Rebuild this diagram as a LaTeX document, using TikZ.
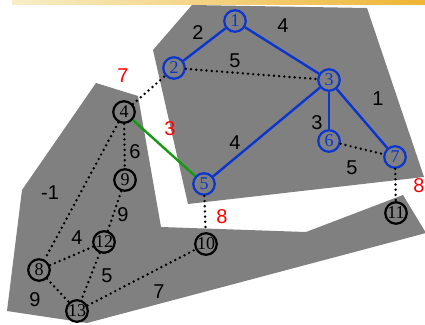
\documentclass[tikz,border=0pt]{standalone}
\usepackage{fontspec}
\setmainfont{Liberation Serif}
\newfontfamily\wtfont{Liberation Sans}
\usepackage{tikz}
\definecolor{treeblue}{HTML}{0A35CF}
\definecolor{swapgreen}{HTML}{129A12}
\definecolor{regiongray}{HTML}{808080}
\definecolor{barlight}{HTML}{F8EDC8}
\definecolor{bardark}{HTML}{EEB534}
\tikzset{
  vtx/.style={
    circle,
    draw=black,
    line width=2.2pt,
    minimum size=21.5pt,
    inner sep=0pt,
    font=\fontsize{18}{18}\selectfont
  },
  treevtx/.style={
    vtx,
    draw=treeblue,
    text=treeblue
  },
  treeedge/.style={
    draw=treeblue,
    line width=2.4pt
  },
  swapedge/.style={
    draw=swapgreen,
    line width=2.4pt
  },
  nontree/.style={
    draw=black,
    line width=2.7pt,
    line cap=round,
    dash pattern=on 0pt off 5.2pt
  },
  wt/.style={
    inner sep=0pt,
    font=\wtfont\fontsize{20}{20}\selectfont
  },
  cutwt/.style={
    wt,
    text=red
  },
  region/.style={
    fill=regiongray,
    draw=none
  }
}

\begin{document}
\begin{tikzpicture}[x=1pt, y=-1pt]
\useasboundingbox (0,0) rectangle (425,324);
% strip along the top
\fill[left color=barlight, right color=bardark] (12,0) rectangle (425,4);

% the two components
\fill[region] (153,50) -- (192,5) -- (367,8) -- (424,177) -- (188,204) -- cycle;
\fill[region] (96,83) -- (138,96) -- (161,227) -- (306,232) -- (403,195)
  -- (426,233) -- (87,323) -- (7,311) -- (22,190) -- cycle;

% upper tree
\node[treevtx] (n1) at (235,21) {1};
\node[treevtx] (n2) at (174,68) {2};
\node[treevtx] (n3) at (329,80) {3};
\node[treevtx] (n5) at (204,184) {5};
\node[treevtx] (n6) at (329,141) {6};
\node[treevtx] (n7) at (395,157) {7};

% lower part
\node[vtx] (n4) at (124,112) {4};
\node[vtx] (n9) at (125,180) {9};
\node[vtx] (n12) at (104,242) {12};
\node[vtx] (n8) at (39,270) {8};
\node[vtx] (n13) at (77,311) {13};
\node[vtx] (n10) at (206,244) {10};
\node[vtx] (n11) at (396,213) {11};

\draw[treeedge] (n1) -- (n2);
\draw[treeedge] (n1) -- (n3);
\draw[treeedge] (n3) -- (n5);
\draw[treeedge] (n3) -- (n6);
\draw[treeedge] (n3) -- (n7);
\draw[swapedge] (n4) -- (n5);

\draw[nontree] (n2) -- (n3);
\draw[nontree] (n6) -- (n7);
\draw[nontree] (n4) -- (n2);
\draw[nontree] (n5) -- (n10);
\draw[nontree] (n7) -- (n11);
\draw[nontree] (n4) -- (n9);
\draw[nontree] (n4) -- (n8);
\draw[nontree] (n9) -- (n12);
\draw[nontree] (n12) -- (n8);
\draw[nontree] (n12) -- (n13);
\draw[nontree] (n8) -- (n13);
\draw[nontree] (n13) -- (n10);

% weights
\node[wt] (w12) at (198,33) {2};
\node[wt] (w13) at (283,26) {4};
\node[wt] (w23) at (235,61) {5};
\node[wt] (w37) at (378,99) {1};
\node[wt] (w35) at (235,143) {4};
\node[wt] (w36) at (317,123) {3};
\node[wt] (w67) at (352,168) {5};
\node[wt] (w49) at (135,152) {6};
\node[wt] (w48) at (50,193) {-1};
\node[wt] (w912) at (123,215) {9};
\node[wt] (w812) at (77,238) {4};
\node[wt] (w1213) at (107,276) {5};
\node[wt] (w813) at (35,300) {9};
\node[wt] (w1013) at (159,292) {7};
\node[cutwt] (w24) at (123,76) {7};
\node[cutwt] (w45) at (170,129) {3};
\node[cutwt] (w510) at (222,217) {8};
\node[cutwt] (w711) at (419,186) {8};
\end{tikzpicture}
\end{document}
